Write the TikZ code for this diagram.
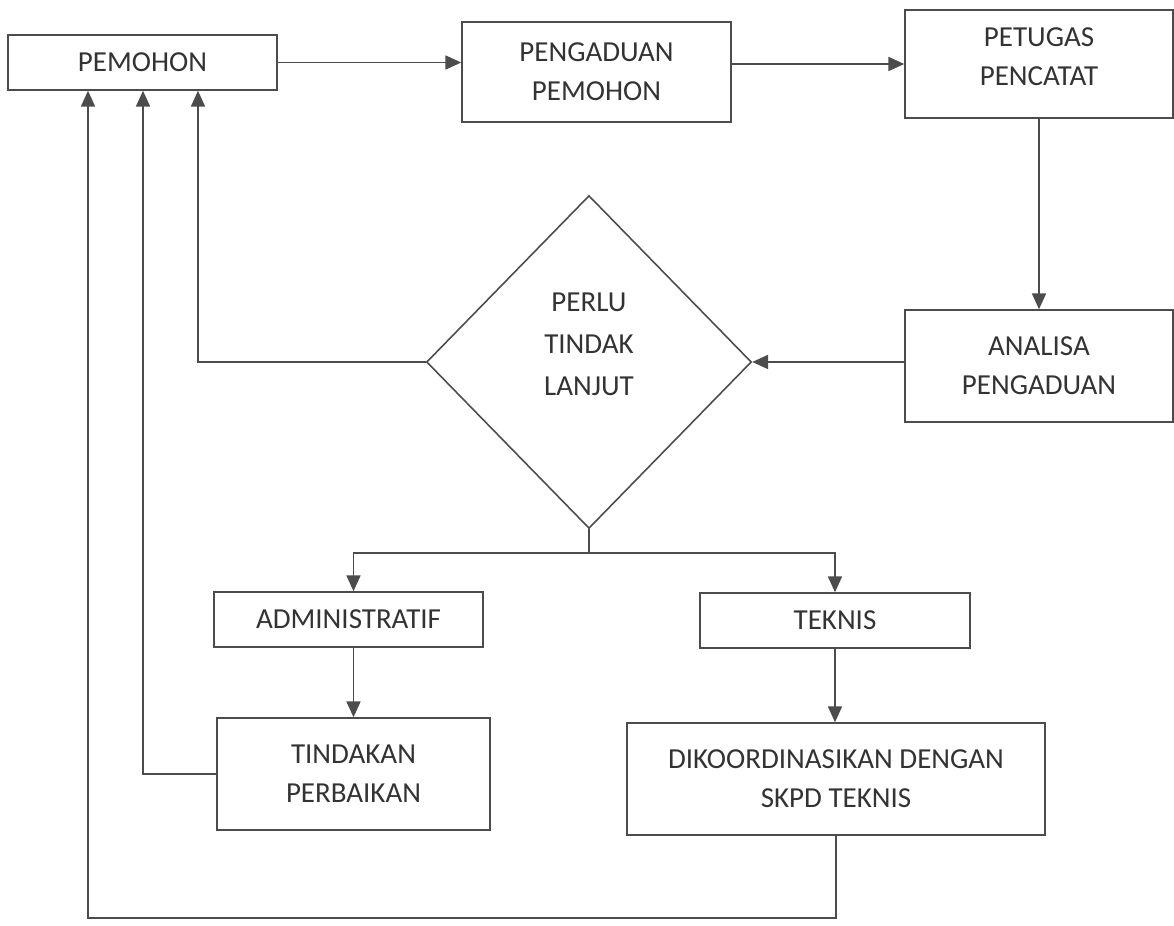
\documentclass[tikz,border=0pt]{standalone}
\usepackage{fontspec}
\setmainfont{Carlito}
\usepackage{tikz}
\usetikzlibrary{shapes.geometric,arrows.meta}

\begin{document}
\begin{tikzpicture}[x=0.02cm,y=-0.02cm,line width=0.9pt]
    \tikzstyle{box}=[rectangle,draw=black!70,text=black!80,align=center,inner sep=0pt,font=\fontsize{16.5}{22}\selectfont]
    \tikzstyle{arr}=[draw=black!70,-{Triangle[length=9pt,width=8pt]}]
    \useasboundingbox (0,0) rectangle (1174,926);
    \node[box,minimum width=5.38cm,minimum height=1.1cm] (G_pemohon) at (142.5,62.5) {PEMOHON};
    \node[box,minimum width=5.38cm,minimum height=2cm] (G_pengaduan) at (596.5,72) {PENGADUAN\\PEMOHON};
    \node[box,minimum width=5.36cm,minimum height=2.16cm,text depth=0.3cm] (G_petugas) at (1039,64) {PETUGAS\\PENCATAT};
    \node[box,minimum width=5.36cm,minimum height=2.24cm] (G_analisa) at (1039,366) {ANALISA\\PENGADUAN};
    \node[box,diamond,minimum width=6.5cm,minimum height=6.66cm,text depth=0.7cm,font=\fontsize{16.5}{24}\selectfont] (G_perlu) at (589,362) {PERLU\\TINDAK\\LANJUT};
    \node[box,minimum width=5.38cm,minimum height=1.1cm] (G_admin) at (348.5,619.5) {ADMINISTRATIF};
    \node[box,minimum width=5.46cm,minimum height=2.24cm] (G_tindakan) at (353.5,774) {TINDAKAN\\PERBAIKAN};
    \node[box,minimum width=5.4cm,minimum height=1.1cm] (G_teknis) at (835,620.5) {TEKNIS};
    \node[box,minimum width=8.36cm,minimum height=2.24cm] (G_skpd) at (836,779) {DIKOORDINASIKAN DENGAN\\SKPD TEKNIS};
    \coordinate (G_a) at (88,918);
    \coordinate (G_b) at (143,0);
    \coordinate (G_c) at (198,0);
    \coordinate (G_d) at (589,553);
    \draw [arr] (G_pemohon.east) -- (G_pemohon.east -| G_pengaduan.west);
    \draw [arr] (G_pengaduan.east |- G_petugas.west) -- (G_petugas.west);
    \draw [arr] (G_petugas.south) -- (G_analisa.north);
    \draw [arr] (G_perlu.east -| G_analisa.west) -- (G_perlu.east);
    \draw [arr] (G_perlu.west) -| (G_c |- G_pemohon.south);
    \draw [arr] (G_tindakan.west) -| (G_b |- G_pemohon.south);
    \draw [arr] (G_skpd.south) |- (G_a) -- (G_a |- G_pemohon.south);
    \draw [arr] (G_perlu.south) -- (G_d) -| (G_tindakan.north |- G_admin.north);
    \draw [arr] (G_d) -| (G_teknis.north);
    \draw [arr] (G_tindakan.north |- G_admin.south) -- (G_tindakan.north);
    \draw [arr] (G_teknis.south) -- (G_teknis.south |- G_skpd.north);
\end{tikzpicture}
\end{document}
